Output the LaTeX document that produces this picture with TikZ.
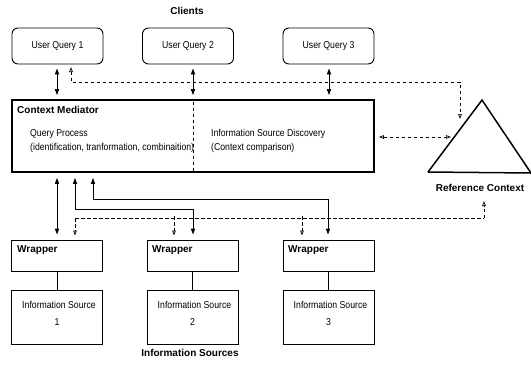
\documentclass[tikz,border=0pt]{standalone}
\usepackage{fontspec}
\setmainfont{Liberation Sans}
\newfontfamily\narrowfont[FakeStretch=0.87]{Liberation Sans}
\usetikzlibrary{arrows.meta,calc}
\tikzset{
  box/.style={draw, line width=0.9pt, inner sep=0pt},
  uqbox/.style={box, rounded corners=6pt, minimum width=91pt, minimum height=36pt, font=\narrowfont\fontsize{10}{12}\selectfont},
  wbox/.style={box, minimum width=91pt, minimum height=31pt},
  isbox/.style={box, minimum width=91pt, minimum height=54pt},
  txt/.style={font=\narrowfont\fontsize{10}{12}\selectfont, inner sep=0pt},
  btxt/.style={font=\bfseries\fontsize{10}{12}\selectfont, inner sep=0pt},
  conn/.style={line width=0.9pt},
  solidtip/.tip={Triangle[length=6pt,width=4.2pt]},
  opentip/.tip={Triangle[open,length=5pt,width=3.6pt,line width=0.7pt]},
  dsh/.style={line width=0.9pt, dash pattern=on 3.5pt off 2.5pt},
}
\begin{document}
\begin{tikzpicture}[x=1pt,y=-1pt]
\useasboundingbox (0,0) rectangle (531,373);

% titles
\node[btxt] (clients) at (187,11) {Clients};
\node[btxt] (infos) at (190,353) {Information Sources};
\node[btxt] (refctx) at (480,188) {Reference Context};

% user queries
\node[uqbox] (uq1) at (57.5,46) {User Query 1};
\node[uqbox] (uq2) at (188,46) {User Query 2};
\node[uqbox] (uq3) at (328.5,46) {User Query 3};

% mediator
\node[draw, line width=1.8pt, minimum width=362pt, minimum height=72pt, inner sep=0pt] (med) at (193,136) {};
\node[btxt, anchor=west] (medt) at (17,110) {Context Mediator};
\node[txt, anchor=west] (qp) at (30,134) {Query Process};
\node[txt, anchor=west] (qpd) at (30,148) {(identification, tranformation, combinaition)};
\node[txt, anchor=west] (isd) at (211,134) {Information Source Discovery};
\node[txt, anchor=west] (isdd) at (211,148) {(Context comparison)};
\draw[dsh] (193,101.5) -- (193,171);

% reference context triangle
\coordinate (tA) at (482,100);
\coordinate (tL) at (428,172);
\coordinate (tR) at (531,173);
\draw[line width=1.5pt, line join=miter] (tL) -- (tA) -- (tR);
\draw[line width=1.5pt] (tL) -- (tR);

% wrappers
\node[wbox] (w1) at (57,255.5) {};
\node[wbox] (w2) at (192.5,255.5) {};
\node[wbox] (w3) at (328.5,255.5) {};
\node[btxt, anchor=west] (w1t) at (17,250) {Wrapper};
\node[btxt, anchor=west] (w2t) at (152,250) {Wrapper};
\node[btxt, anchor=west] (w3t) at (288,250) {Wrapper};

% information sources
\node[isbox] (is1) at (57,317) {};
\node[isbox] (is2) at (192.5,317) {};
\node[isbox] (is3) at (328.5,317) {};
\node[txt] (is1a) at (59,305) {Information Source};
\node[txt] (is1b) at (57,322) {1};
\node[txt] (is2a) at (194.5,305) {Information Source};
\node[txt] (is2b) at (192.5,322) {2};
\node[txt] (is3a) at (330.5,305) {Information Source};
\node[txt] (is3b) at (328.5,322) {3};

\draw[conn] (w1.south) -- (is1.north);
\draw[conn] (w2.south) -- (is2.north);
\draw[conn] (w3.south) -- (is3.north);

% user query <-> mediator
\draw[conn, {solidtip}-{solidtip}, shorten <=4pt, shorten >=4pt] (uq1.south -| 57,0) -- (med.north -| 57,0);
\draw[conn, {solidtip}-{solidtip}, shorten <=4pt, shorten >=4pt] (uq2.south -| 193,0) -- (med.north -| 193,0);
\draw[conn, {solidtip}-{solidtip}, shorten <=4pt, shorten >=4pt] (uq3.south -| 329,0) -- (med.north -| 329,0);

% dashed: user query 1 <-> reference context
\coordinate (d1s) at (71,67);
\coordinate (d1e) at (460,119);
\draw[dsh, {opentip}-{opentip}] (d1s) -- (71,82) -- (460,82) -- (d1e);

% dashed: mediator <-> reference context
\draw[dsh, {opentip}-{opentip}] ([xshift=4pt]med.east |- 0,137) -- (451,137);

% mediator <-> wrappers
\draw[conn, {solidtip}-{solidtip}, shorten <=5pt, shorten >=5pt] (med.south -| 57,0) -- (w1.north -| 57,0);
\draw[conn, {solidtip}-{solidtip}, shorten <=5pt, shorten >=5pt] (med.south -| 75,0) -- (75,209) -- (193,209) -- (w2.north -| 193,0);
\draw[conn, {solidtip}-{solidtip}, shorten <=5pt, shorten >=5pt] (med.south -| 93,0) -- (93,199) -- (328,199) -- (w3.north -| 328,0);

% dashed: wrappers <-> reference context
\coordinate (rcb) at (484,201);
\draw[dsh] (75,218) -- (484,218);
\draw[dsh, -{opentip}] (484,218) -- (rcb);
\draw[dsh, -{opentip}, shorten >=4pt] (75,218) -- (w1.north -| 75,0);
\draw[dsh, -{opentip}, shorten >=4pt] (174,216) -- (w2.north -| 174,0);
\draw[dsh, -{opentip}, shorten >=4pt] (302,216) -- (w3.north -| 302,0);
\end{tikzpicture}
\end{document}
